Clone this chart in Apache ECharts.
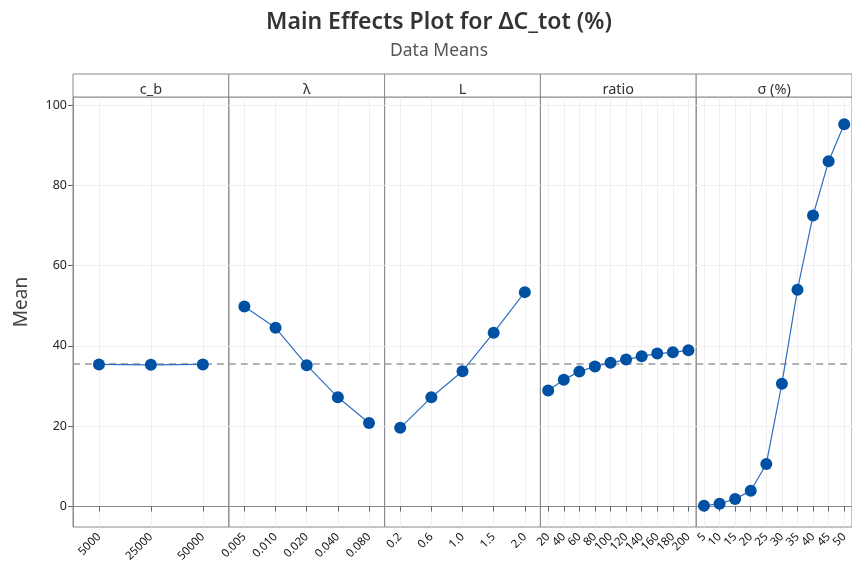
<!DOCTYPE html>
<html>
<head>
<meta charset="utf-8">
<script src="https://cdn.jsdelivr.net/npm/echarts@6/dist/echarts.min.js"></script>
<style>
html,body{margin:0;padding:0;background:#fff;}
#chart{width:852px;height:568px;}
</style>
</head>
<body>
<div id="chart"></div>
<script>
var factors = ['c_b', 'λ', 'L', 'ratio', 'σ (%)'];
var cbLevels = ['5000', '25000', '50000'];
var cbMeans = [35.4, 35.3, 35.4];
var lambdaLevels = ['0.005', '0.010', '0.020', '0.040', '0.080'];
var lambdaMeans = [49.8, 44.5, 35.2, 27.2, 20.8];
var LLevels = ['0.2', '0.6', '1.0', '1.5', '2.0'];
var LMeans = [19.6, 27.2, 33.7, 43.3, 53.4];
var ratioLevels = ['20', '40', '60', '80', '100', '120', '140', '160', '180', '200'];
var ratioMeans = [28.9, 31.6, 33.6, 34.9, 35.8, 36.6, 37.4, 38.1, 38.4, 38.9];
var sigmaLevels = ['5', '10', '15', '20', '25', '30', '35', '40', '45', '50'];
var sigmaMeans = [0.2, 0.7, 1.9, 3.9, 10.6, 30.6, 54.0, 72.5, 86.0, 95.2];
var overallMean = 35.6;
var yTicks = [0, 20, 40, 60, 80, 100];

var levelsList = [cbLevels, lambdaLevels, LLevels, ratioLevels, sigmaLevels];
var meansList = [cbMeans, lambdaMeans, LMeans, ratioMeans, sigmaMeans];

var FONT = '"Noto Sans", "Open Sans", sans-serif';
var gridLeft = 73, gridTop = 97, gridH = 430, panelW = 155.8, headerTop = 74;

var grids = [], xAxes = [], yAxes = [], series = [], graphics = [];
for (var i = 0; i < 5; i++) {
  var left = gridLeft + i * panelW;
  grids.push({left: left, top: gridTop, width: panelW, height: gridH, show: true,
    borderColor: '#8a8a8a', borderWidth: 1, backgroundColor: 'transparent', containLabel: false});
  xAxes.push({type: 'category', gridIndex: i, data: levelsList[i], boundaryGap: true,
    axisLine: {show: true, lineStyle: {color: '#8a8a8a', width: 1}},
    axisTick: {show: true, alignWithLabel: true, length: 5, lineStyle: {color: '#666'}},
    axisLabel: {interval: 0, rotate: 45, fontSize: 11.5, color: '#111', margin: 8, fontFamily: FONT, hideOverlap: false},
    splitLine: {show: false}});
  yAxes.push({type: 'value', gridIndex: i, min: -5.1, max: 102,
    axisLine: {show: i === 0, lineStyle: {color: '#8a8a8a'}},
    axisTick: {show: i === 0, length: 5, customValues: yTicks, lineStyle: {color: '#666'}},
    axisLabel: {show: i === 0, customValues: yTicks, fontSize: 12.5, color: '#222', fontFamily: FONT, margin: 6},
    splitLine: {show: false},
    name: i === 0 ? 'Mean' : '', nameLocation: 'middle', nameGap: 42,
    nameTextStyle: {fontSize: 19, color: '#444', fontFamily: FONT, padding: [0, 0, 0, 20]}});
  var glData = [];
  for (var k = 0; k < yTicks.length; k++) glData.push({yAxis: yTicks[k]});
  for (var k = 0; k < levelsList[i].length; k++) glData.push({xAxis: levelsList[i][k]});
  series.push({type: 'line', xAxisIndex: i, yAxisIndex: i, data: [], z: 0, silent: true,
    markLine: {silent: true, z: 0, symbol: 'none', animation: false, label: {show: false},
      lineStyle: {color: '#efefef', width: 1, type: 'solid'}, data: glData}});
  series.push({type: 'line', xAxisIndex: i, yAxisIndex: i, data: [], z: 1, silent: true,
    markLine: {silent: true, z: 1, symbol: 'none', animation: false, label: {show: false},
      lineStyle: {color: '#9a9a9a', width: 1.5, type: [7, 5]}, data: [{yAxis: overallMean}]}});
  series.push({type: 'line', xAxisIndex: i, yAxisIndex: i, data: meansList[i], z: 3,
    symbol: 'circle', symbolSize: 12, animation: false,
    itemStyle: {color: '#0050A4'},
    lineStyle: {color: '#2F6FBE', width: 1.2}});
  graphics.push({type: 'rect', shape: {x: left, y: headerTop, width: panelW, height: gridTop - headerTop},
    style: {fill: '#fff', stroke: '#8a8a8a', lineWidth: 1}, z: 10});
  graphics.push({type: 'text', x: left + panelW / 2, y: 90, z: 11,
    style: {text: factors[i], fontSize: 14.5, fill: '#333', fontFamily: FONT, align: 'center', verticalAlign: 'middle'}});
}

var chart = echarts.init(document.getElementById('chart'), null, {renderer: 'canvas'});
chart.setOption({
  animation: false,
  backgroundColor: '#fff',
  title: [
    {text: 'Main Effects Plot for ΔC_tot (%)', left: 434, top: 6, textAlign: 'center',
      textStyle: {fontSize: 23, fontWeight: 600, color: '#333', fontFamily: FONT}},
    {text: 'Data Means', left: 434, top: 37, textAlign: 'center',
      textStyle: {fontSize: 17.5, fontWeight: 'normal', color: '#555', fontFamily: FONT}}
  ],
  grid: grids,
  xAxis: xAxes,
  yAxis: yAxes,
  series: series,
  graphic: graphics
});
</script>
</body>
</html>
